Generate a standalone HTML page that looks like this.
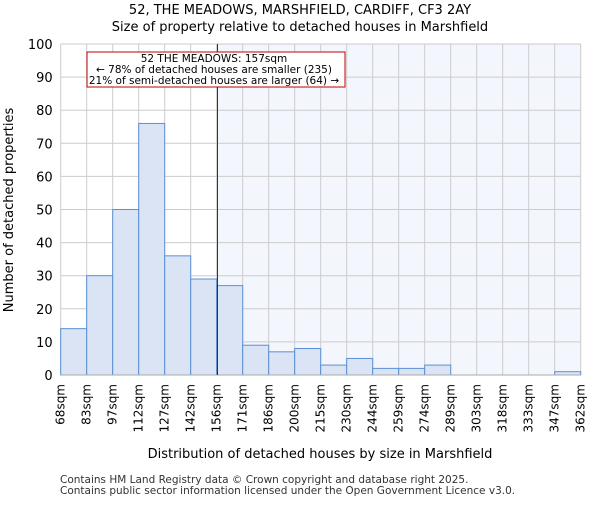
<!DOCTYPE html>
<html><head><meta charset="utf-8"><style>
body{margin:0;background:#fff}
svg{font-family:"DejaVu Sans","Liberation Sans",sans-serif}
</style></head><body>
<svg id="c" width="600" height="500" xmlns="http://www.w3.org/2000/svg"></svg>
<script>
const binLabels=["68sqm","83sqm","97sqm","112sqm","127sqm","142sqm","156sqm","171sqm","186sqm","200sqm","215sqm","230sqm","244sqm","259sqm","274sqm","289sqm","303sqm","318sqm","333sqm","347sqm","362sqm"];
const counts=[14,30,50,76,36,29,27,9,7,8,3,5,2,2,3,0,0,0,0,1];
const yTicks=[0,10,20,30,40,50,60,70,80,90,100];
const markerBin=6.03;
const svg=document.getElementById('c');
const NS='http://www.w3.org/2000/svg';
const L=60.7,R=580.7,T=44,B=375,bw=(R-L)/counts.length;
const x=i=>L+i*bw, y=v=>B-(v/100)*(B-T);
function el(t,a,p){const e=document.createElementNS(NS,t);for(const k in a)e.setAttribute(k,a[k]);(p||svg).appendChild(e);return e;}
function txt(s,a,n){const e=el('text',a);e.textContent=s;return e;}
const mx=x(markerBin);
const shade=el('rect',{x:mx,y:T,width:R-mx,height:B-T,fill:'#f3f6fd'});


for(let i=0;i<=counts.length;i++){const g=el('line',{x1:x(i),x2:x(i),y1:T,y2:B,stroke:'#cccccc','stroke-width':1});}
yTicks.forEach(v=>{const g=el('line',{x1:L,x2:R,y1:y(v),y2:y(v),stroke:'#cccccc','stroke-width':1});
txt(String(v),{x:L-8,y:y(v)+5,'text-anchor':'end','font-size':13,fill:'#000'},'y-tick-label');});
counts.forEach((c,i)=>{if(c<=0)return;const r=el('rect',{x:x(i),y:y(c),width:bw,height:B-y(c),fill:'#dae4f4',stroke:'#5a8fd6','stroke-width':1});});
binLabels.forEach((s,i)=>{const px=x(i)+4;txt(s,{x:0,y:0,'text-anchor':'end','font-size':12,transform:`translate(${px},384) rotate(-90)`,fill:'#000'},'x-tick-label');});
const ax=el('line',{x1:L,x2:R,y1:B,y2:B,stroke:'#aaa'});
const ml=el('line',{x1:mx,x2:mx,y1:T,y2:B,stroke:'#a00000','stroke-width':1});
const box=el('rect',{x:87,y:52,width:258,height:35,fill:'#fff',stroke:'#c00000','stroke-width':1});
txt('52 THE MEADOWS: 157sqm',{x:214,y:62,'text-anchor':'middle','font-size':10.5},'annotation-title');
txt('← 78% of detached houses are smaller (235)',{x:214,y:73,'text-anchor':'middle','font-size':10.5},'annotation-smaller');
txt('21% of semi-detached houses are larger (64) →',{x:214,y:84,'text-anchor':'middle','font-size':10.5},'annotation-larger');
txt('52, THE MEADOWS, MARSHFIELD, CARDIFF, CF3 2AY',{x:300,y:14,'text-anchor':'middle','font-size':13},'chart-title');
txt('Size of property relative to detached houses in Marshfield',{x:300,y:31,'text-anchor':'middle','font-size':13},'chart-subtitle');
txt('Distribution of detached houses by size in Marshfield',{x:320,y:458,'text-anchor':'middle','font-size':13},'x-axis-title');
txt('Number of detached properties',{x:0,y:0,'text-anchor':'middle','font-size':13,transform:'translate(13,210) rotate(-90)'},'y-axis-title');
txt('Contains HM Land Registry data © Crown copyright and database right 2025.',{x:60,y:483,'font-size':10.5,fill:'#333'},'footer-line-1');
txt('Contains public sector information licensed under the Open Government Licence v3.0.',{x:60,y:494,'font-size':10.5,fill:'#333'},'footer-line-2');
</script>
</body></html>
